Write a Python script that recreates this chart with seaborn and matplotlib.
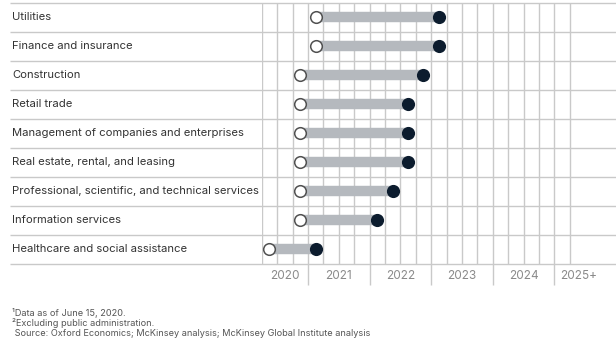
import numpy as np
import pandas as pd
import matplotlib
matplotlib.use('Agg')
from matplotlib import pyplot as plt
from matplotlib import transforms
import seaborn as sns

sns.set_style('white')
plt.rcParams['font.family'] = ['Inter', 'DejaVu Sans']

# values, as year + quarter midpoint
sectors = [
    'Utilities',
    'Finance and insurance',
    'Construction',
    'Retail trade',
    'Management of companies and enterprises',
    'Real estate, rental, and leasing',
    'Professional, scientific, and technical services',
    'Information services',
    'Healthcare and social assistance',
]
start = [2021.125, 2021.125, 2020.875, 2020.875, 2020.875, 2020.875, 2020.875, 2020.875, 2020.375]
end = [2023.125, 2023.125, 2022.875, 2022.625, 2022.625, 2022.625, 2022.375, 2022.125, 2021.125]
year_labels = ['2020', '2021', '2022', '2023', '2024', '2025+']
year_label_pos = [2020.625, 2021.5, 2022.5, 2023.5, 2024.5, 2025.4]
year_breaks = [2021, 2022, 2023, 2024, 2025]
footnotes = [
    '\u00b9Data as of June 15, 2020.',
    '\u00b2Excluding public administration.',
    ' Source: Oxford Economics; McKinsey analysis; McKinsey Global Institute analysis',
]

df = pd.DataFrame({'sector': sectors, 'start': start, 'end': end})
df['row'] = pd.Categorical(df['sector'], categories=sectors).codes

grid_c = '#c9c9c9'
fig = plt.figure(figsize=(6.16, 3.52), dpi=100)
ax = fig.add_axes([261.7 / 616, 1 - 263.5 / 352, 1 - 261.7 / 616, 261 / 352])
ax.set_xlim(2020.25, 2026.0)
ax.set_ylim(len(sectors) - 0.5, -0.5)

# quarterly grid
ax.vlines(np.arange(2020.25, 2025.26, 0.25), -0.5, len(sectors) - 0.5,
          color=grid_c, lw=1, zorder=0)

# row separators, running into the label area
left_frac = (10 - 261.7) / 354.3
trans = transforms.blended_transform_factory(ax.transAxes, ax.transData)
ax.hlines(np.arange(-0.5, len(sectors)), left_frac, 1.0, transform=trans,
          color=grid_c, lw=1, clip_on=False, zorder=0)

# bars between the two dots
ax.hlines(df['row'], df['start'], df['end'], color='#b5b9be', lw=7.5,
          zorder=2, capstyle='butt')

sns.scatterplot(data=df, x='start', y='row', ax=ax, color='white',
                edgecolor='#505050', linewidth=1.1, s=70, legend=False,
                zorder=3, clip_on=False)
sns.scatterplot(data=df, x='end', y='row', ax=ax, color='#0c1c2e',
                edgecolor='#0c1c2e', linewidth=1.1, s=70, legend=False,
                zorder=3, clip_on=False)

for i, name in enumerate(sectors):
    ax.text((12 - 261.7) / 354.3, i, name, transform=trans, ha='left',
            va='center', fontsize=8.1, color='#333333')

for sp in ax.spines.values():
    sp.set_visible(False)
ax.set_yticks([])
ax.set_xlabel('')
ax.set_ylabel('')

ax.set_xticks(year_breaks)
ax.set_xticklabels([''] * len(year_breaks))
ax.tick_params(axis='x', which='major', length=15, width=1, color=grid_c,
               direction='out', bottom=True)
ax.set_xticks(year_label_pos, minor=True)
ax.set_xticklabels(year_labels, minor=True)
ax.tick_params(axis='x', which='minor', length=0, pad=5, labelsize=8.5,
               labelcolor='#8a8a8a')

for k, line in enumerate(footnotes):
    fig.text(12 / 616, 1 - (313 + 10 * k) / 352, line, ha='left', va='center',
             fontsize=6.6, color='#555555')

fig.savefig('out.png', dpi=100)
